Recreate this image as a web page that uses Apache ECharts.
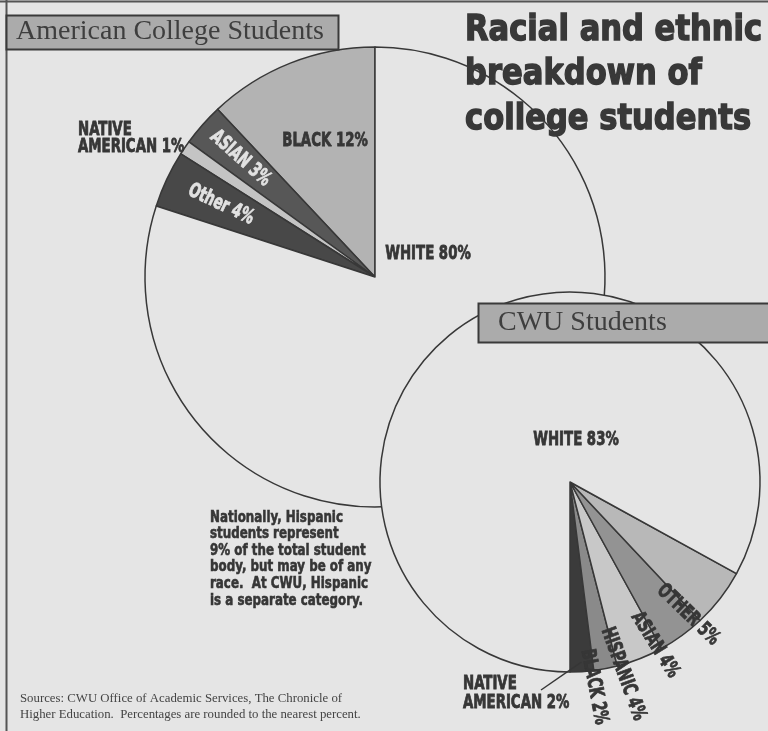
<!DOCTYPE html>
<html>
<head>
<meta charset="utf-8">
<script src="https://cdn.jsdelivr.net/npm/echarts@6/dist/echarts.min.js"></script>
<style>
html,body{margin:0;padding:0;background:#e5e5e5;}
#chart{width:768px;height:731px;}
</style>
</head>
<body>
<div id="chart"></div>
<script>
// ---- data ----
const usCategories = ['BLACK', 'ASIAN', 'NATIVE AMERICAN', 'Other', 'WHITE'];
const usValues = [12, 3, 1, 4, 80];
const cwuCategories = ['NATIVE AMERICAN', 'BLACK', 'HISPANIC', 'ASIAN', 'OTHER', 'WHITE'];
const cwuValues = [2, 2, 4, 4, 5, 83];
const titleLines = ['Racial and ethnic', 'breakdown of', 'college students'];
const usHeader = 'American College Students';
const cwuHeader = 'CWU Students';
const noteLines = ['Nationally, Hispanic', 'students represent', '9% of the total student', 'body, but may be of any', 'race.  At CWU, Hispanic', 'is a separate category.'];
const sourceLines = ['Sources: CWU Office of Academic Services, The Chronicle of', 'Higher Education.  Percentages are rounded to the nearest percent.'];

// ---- styles ----
const BG = '#e5e5e5';
const INK = '#363636';
const usColors = ['#b3b3b3', '#575757', '#c4c4c4', '#484848', BG];
const cwuColors = ['#3b3b3b', '#8a8a8a', '#c8c8c8', '#939393', '#b8b8b8', BG];
const heavy = "'DejaVu Sans Condensed', 'DejaVu Sans', sans-serif";
const heavyWide = "'DejaVu Sans', sans-serif";
const serif = "'Liberation Serif', 'DejaVu Serif', serif";

const usCenter = [375, 277], usR = 230, usStart = 90;
const cwuCenter = [570, 482], cwuR = 190, cwuStart = 270;

function midAngle(values, i, start) {
  const total = values.reduce((a, b) => a + b, 0);
  let acc = 0;
  for (let j = 0; j < i; j++) acc += values[j];
  return start + (acc + values[i] / 2) / total * 360;
}
function polar(c, r, deg) {
  const a = deg * Math.PI / 180;
  return [c[0] + r * Math.cos(a), c[1] - r * Math.sin(a)];
}
function radialRot(deg) {
  const d = ((deg % 360) + 360) % 360;
  const rot = Math.cos(d * Math.PI / 180) >= 0 ? d : d - 180;
  return rot * Math.PI / 180;
}
function label(name, value) {
  const n = name === 'NATIVE AMERICAN' ? 'NATIVE\nAMERICAN' : name;
  return n + ' ' + value + '%';
}
function txt(x, y, text, o) {
  return {
    type: 'text', x: x, y: y, rotation: o.rotation || 0, scaleX: o.scaleX || 1, z: 60,
    style: {
      text: text, x: 0, y: 0,
      font: o.font, fill: o.fill || INK,
      stroke: o.stroke || null, lineWidth: o.lineWidth || 0,
      align: o.align || 'center', textAlign: o.align || 'center',
      verticalAlign: o.va || 'middle', textVerticalAlign: o.va || 'middle',
      lineHeight: o.lineHeight
    }
  };
}

function pieData(cats, vals, colors) {
  return cats.map((c, i) => ({ name: c, value: vals[i], itemStyle: { color: colors[i] } }));
}

const graphics = [];
// frame
graphics.push({ type: 'line', z: 40, shape: { x1: 0, y1: 1.5, x2: 768, y2: 1.5 }, style: { stroke: '#555', lineWidth: 2 } });
graphics.push({ type: 'line', z: 40, shape: { x1: 6.5, y1: 0, x2: 6.5, y2: 731 }, style: { stroke: '#555', lineWidth: 2 } });
// header boxes
graphics.push({ type: 'rect', z: 45, shape: { x: 6.5, y: 15.5, width: 332, height: 34 }, style: { fill: '#ababab', stroke: '#3a3a3a', lineWidth: 2 } });
graphics.push(txt(16, 46, usHeader, { font: '28px ' + serif, fill: '#3e3e3e', align: 'left', va: 'bottom' }));
graphics.push({ type: 'rect', z: 45, shape: { x: 478.5, y: 303.5, width: 300, height: 39 }, style: { fill: '#ababab', stroke: '#3a3a3a', lineWidth: 2 } });
graphics.push(txt(498, 337, cwuHeader, { font: '28px ' + serif, fill: '#3e3e3e', align: 'left', va: 'bottom' }));
// title
graphics.push(txt(465, 8, titleLines.join('\n'), { font: 'bold 36px ' + heavyWide, fill: '#383838', stroke: '#383838', lineWidth: 1.5, align: 'left', va: 'top', lineHeight: 44.5, scaleX: 0.85 }));

// American pie labels
const usLabelSpec = [
  { fixed: [325, 141] },
  { k: 0.78, light: true },
  { fixed: [78, 138.5], align: 'left' },
  { k: 0.74, light: true },
  { fixed: [428, 254] }
];
usLabelSpec.forEach((s, i) => {
  const t = label(usCategories[i], usValues[i]);
  const color = s.light ? '#e2e2e2' : INK;
  const font = 'bold 20px ' + heavy;
  if (s.fixed) {
    graphics.push(txt(s.fixed[0], s.fixed[1], t, { font: font, fill: color, stroke: color, lineWidth: 0.8, align: s.align, lineHeight: 17, scaleX: 0.74 }));
  } else {
    const a = midAngle(usValues, i, usStart);
    const p = polar(usCenter, usR * s.k, a);
    graphics.push(txt(p[0], p[1], t, { font: font, fill: color, stroke: color, lineWidth: 0.8, rotation: radialRot(a), scaleX: 0.74 }));
  }
});

// CWU pie labels (placed at the label spots of the original layout, radial text)
const cwuLabelSpec = [
  { fixed: [463, 693.5], align: 'left' },
  { at: [594, 687], rot: -79 },
  { at: [623, 674], rot: -70 },
  { at: [655, 645], rot: -58 },
  { at: [688, 615], rot: -44 },
  { fixed: [576, 440] }
];
cwuLabelSpec.forEach((s, i) => {
  const t = label(cwuCategories[i], cwuValues[i]);
  const font = 'bold 20px ' + heavy;
  if (s.fixed) {
    graphics.push(txt(s.fixed[0], s.fixed[1], t, { font: font, stroke: INK, lineWidth: 0.8, align: s.align, lineHeight: 19, scaleX: 0.74 }));
  } else {
    graphics.push(txt(s.at[0], s.at[1], t, { font: font, stroke: INK, lineWidth: 0.8, rotation: s.rot * Math.PI / 180, scaleX: 0.74 }));
  }
});
// leader line for CWU native american
(function () {
  const a = midAngle(cwuValues, 0, cwuStart);
  const p = polar(cwuCenter, cwuR * 0.95, a);
  graphics.push({ type: 'line', z: 55, shape: { x1: p[0], y1: p[1], x2: 541, y2: 690 }, style: { stroke: INK, lineWidth: 1.5 } });
})();

// note
graphics.push(txt(210, 509, noteLines.join('\n'), { font: 'bold 16.5px ' + heavy, stroke: INK, lineWidth: 0.6, align: 'left', va: 'top', lineHeight: 16.6, scaleX: 0.8 }));
// sources
graphics.push(txt(20, 691, sourceLines.join('\n'), { font: '12.8px ' + serif, fill: '#444', align: 'left', va: 'top', lineHeight: 15.5 }));

const chart = echarts.init(document.getElementById('chart'), null, { renderer: 'canvas' });
chart.setOption({
  backgroundColor: BG,
  animation: false,
  series: [
    {
      type: 'pie', z: 2, silent: true, center: usCenter, radius: [0, usR],
      startAngle: usStart, clockwise: false, label: { show: false }, labelLine: { show: false },
      emphasis: { disabled: true },
      itemStyle: { borderColor: '#383838', borderWidth: 1.5 },
      data: pieData(usCategories, usValues, usColors)
    },
    {
      type: 'pie', z: 3, silent: true, center: cwuCenter, radius: [0, cwuR],
      startAngle: cwuStart, clockwise: false, label: { show: false }, labelLine: { show: false },
      emphasis: { disabled: true },
      itemStyle: { borderColor: '#383838', borderWidth: 1.5 },
      data: pieData(cwuCategories, cwuValues, cwuColors)
    }
  ],
  graphic: { elements: graphics }
});
</script>
</body>
</html>
